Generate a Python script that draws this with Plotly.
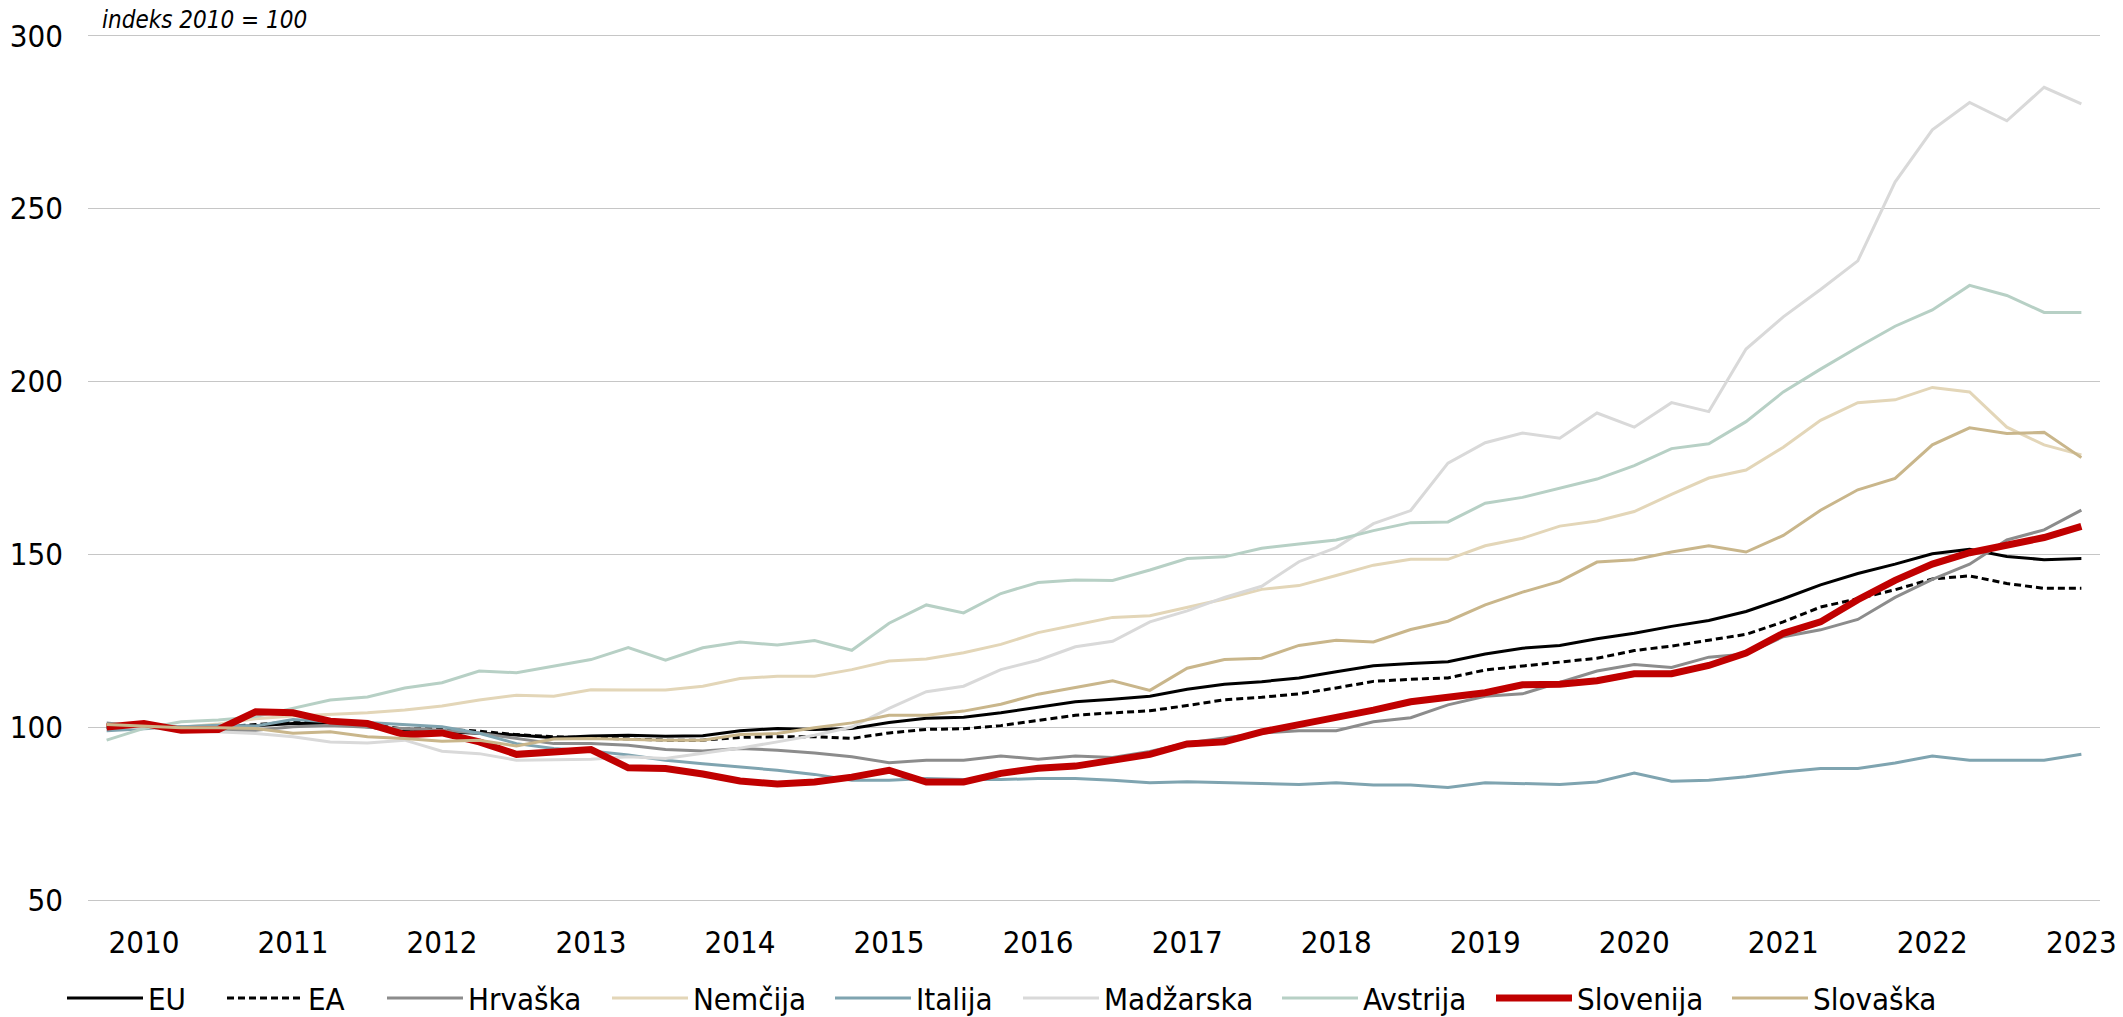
import plotly.graph_objects as go

# Quarterly data 2010Q1 .. 2023Q2 (indeks 2010 = 100)
quarters = list(range(54))
tick_positions = list(range(1, 54, 4))
tick_labels = [str(y) for y in range(2010, 2024)]
y_ticks = [50, 100, 150, 200, 250, 300]

eu = [100, 100, 100, 100, 100.5, 101.1, 101.1, 100.2, 98.7, 98.7, 98.3, 97.8, 97, 97.5,
      97.7, 97.4, 97.6, 99, 99.7, 99.4, 99.7, 101.4, 102.6, 102.9, 104.2, 105.9, 107.4, 108.1,
      109, 111, 112.5, 113.2, 114.3, 116.1, 117.8, 118.5, 119, 121.2, 122.9, 123.7, 125.6,
      127.2, 129.2, 130.9, 133.5, 137.2, 141.2, 144.5, 147.2, 150.2, 151.5, 149.4, 148.5, 148.8]
ea = [100, 100, 100, 100, 100.8, 101.5, 101.5, 100.8, 99.5, 99.5, 98.9, 97.9, 97.3, 97,
      96.5, 96.3, 96.3, 97.1, 97.3, 97.3, 96.8, 98.4, 99.4, 99.6, 100.5, 102.1, 103.5, 104.2,
      104.8, 106.3, 108, 108.7, 109.7, 111.4, 113.3, 113.9, 114.3, 116.6, 117.8, 118.8, 120,
      122.2, 123.5, 125.2, 126.9, 130.5, 134.8, 137.2, 139.8, 142.9, 143.8, 141.6, 140.2, 140.2]
hrvaska = [101.3, 100.2, 100.2, 99.2, 99.2, 100.2, 100.6, 100, 99.7, 99.2, 98.3, 96.8, 95.3, 95.3,
           94.8, 93.6, 93.2, 93.9, 93.4, 92.6, 91.5, 89.8, 90.5, 90.5, 91.7, 90.8, 91.7, 91.3,
           93, 95.5, 97, 98.4, 99, 99, 101.6, 102.8, 106.5, 109, 109.7, 113, 116.3,
           118.2, 117.3, 120.3, 121.2, 126.2, 128.2, 131.2, 137.6, 142.8, 147.2, 154.2, 157.1, 162.8]
nemcija = [100.6, 100.3, 100, 101, 102.5, 103.3, 103.7, 104.2, 105, 106.2, 107.9, 109.3, 109, 110.9,
           110.8, 110.8, 111.9, 114.1, 114.8, 114.8, 116.7, 119.2, 119.8, 121.6, 124, 127.4, 129.6, 131.8,
           132.3, 134.8, 137.1, 139.9, 141, 143.9, 146.9, 148.6, 148.6, 152.5, 154.7, 158.2, 159.7,
           162.4, 167.4, 172.1, 174.4, 181, 188.8, 193.9, 194.7, 198.3, 197, 186.8, 181.7, 178.8]
italija = [99, 99.7, 100.2, 100.6, 100.4, 102.3, 101.6, 101.4, 100.8, 100.2, 98.3, 95.3, 93.9, 93.2,
           92, 90.5, 89.5, 88.6, 87.6, 86.4, 84.7, 84.7, 85.2, 84.9, 84.9, 85.2, 85.2, 84.7,
           84, 84.3, 84.1, 83.8, 83.5, 84, 83.3, 83.3, 82.6, 84, 83.8, 83.5, 84.2,
           86.8, 84.4, 84.7, 85.7, 87.1, 88.1, 88.1, 89.7, 91.7, 90.5, 90.5, 90.5, 92.2]
madzarska = [100, 100, 99.2, 98.7, 98.2, 97.3, 95.8, 95.5, 96.3, 93.1, 92.4, 90.5, 90.7, 90.8,
             91.5, 91, 92.5, 94, 95.8, 97.7, 100.1, 105.5, 110.3, 111.9, 116.7, 119.4, 123.3, 124.9,
             130.5, 133.7, 137.6, 140.8, 147.9, 152, 158.9, 162.7, 176.4, 182.3, 185.1, 183.6, 190.9,
             186.8, 193.9, 191.3, 209.4, 218.7, 226.6, 234.9, 257.7, 272.8, 280.7, 275.4, 285.1, 280.3]
avstrija = [96.3, 99.7, 101.6, 102.1, 103.1, 105.5, 107.9, 108.8, 111.4, 112.9, 116.3, 115.8, 117.7, 119.6,
            123.1, 119.4, 123, 124.7, 123.8, 125.1, 122.3, 130.1, 135.4, 133.1, 138.7, 141.9, 142.6, 142.5,
            145.5, 148.8, 149.3, 151.8, 153, 154.2, 156.9, 159.2, 159.4, 164.8, 166.5, 169.1, 171.8,
            175.7, 180.6, 182, 188.4, 197, 203.6, 209.9, 216, 220.7, 227.8, 224.9, 220, 220]
slovenija = [100.1, 101.1, 99.2, 99.4, 104.5, 104.2, 101.8, 101.1, 97.9, 98.4, 95.8, 92.2, 92.9, 93.6,
             88.3, 88.1, 86.5, 84.5, 83.6, 84.2, 85.6, 87.6, 84.2, 84.2, 86.7, 88.2, 88.8, 90.5,
             92.2, 95.2, 95.8, 98.7, 100.8, 102.5, 105, 107.4, 108.5, 110, 112.3, 112.5, 113.5,
             115.5, 115.5, 117.9, 121.5, 127.2, 130.5, 136.9, 142.5, 147.2, 150.5, 152.5, 154.9, 158.1]
slovaska = [100.8, 100.3, 99.9, 99.9, 99.7, 98.3, 98.7, 97.3, 96.8, 96, 96.3, 94.6, 96.6, 96.8,
            96.5, 96.3, 96.3, 97.9, 98.2, 99.9, 101.3, 103.5, 103.5, 104.7, 106.7, 109.6, 111.5, 113.5,
            110.7, 117.1, 119.6, 120, 123.7, 125.2, 124.7, 128.3, 130.7, 135.4, 139.1, 142.2, 147.8,
            148.5, 150.7, 152.5, 150.7, 155.5, 162.8, 168.7, 172, 181.7, 186.6, 185, 185.3, 178]

FONT = "DejaVu Sans Condensed, Liberation Sans Narrow, Arial Narrow, sans-serif"

series = [
    ("EU", eu, "#000000", 3, "solid"),
    ("EA", ea, "#000000", 3, "7px,4px"),
    ("Hrvaška", hrvaska, "#8c8c8c", 3, "solid"),
    ("Nemčija", nemcija, "#e3d6b8", 3, "solid"),
    ("Italija", italija, "#7fa4b0", 3, "solid"),
    ("Madžarska", madzarska, "#d9d9d9", 3, "solid"),
    ("Avstrija", avstrija, "#b7d0c5", 3, "solid"),
    ("Slovenija", slovenija, "#c00000", 7, "solid"),
    ("Slovaška", slovaska, "#c9b68b", 3, "solid"),
]

# pixel geometry: value 300 at y=36, value 50 at y=900
PX_PER_UNIT = 864 / 250
PAD = 0.5  # small range padding so that the 50 and 300 gridlines are drawn
PLOT_L, PLOT_R = 88, 23
PLOT_T = 36 - PAD * PX_PER_UNIT
PLOT_B = 117 - PAD * PX_PER_UNIT
PLOT_W = 2123 - PLOT_L - PLOT_R
PLOT_H = 1017 - PLOT_T - PLOT_B
# left edge (px) of each legend entry line, as in the reference
legend_line_px = [70, 230, 390, 615, 838, 1026, 1285, 1499, 1735]
LEGEND_CY = 998

fig = go.Figure()
legend_layouts = {}
for k, (name, vals, color, width, dash) in enumerate(series):
    key = "legend" if k == 0 else f"legend{k + 1}"
    fig.add_trace(go.Scatter(x=quarters, y=vals, mode="lines", name=name, legend=key,
                             line=dict(color=color, width=width, dash=dash)))
    legend_layouts[key] = dict(
        orientation="h", x=(legend_line_px[k] - 8 - PLOT_L) / PLOT_W, xanchor="left",
        y=-(LEGEND_CY - (1017 - PLOT_B)) / PLOT_H, yanchor="middle",
        font=dict(family=FONT, size=31),
        itemwidth=76, bgcolor="rgba(0,0,0,0)", borderwidth=0)

fig.update_layout(
    width=2123, height=1017,
    margin=dict(l=PLOT_L, r=PLOT_R, t=PLOT_T, b=PLOT_B, autoexpand=False),
    paper_bgcolor="white", plot_bgcolor="white",
    font=dict(family=FONT, size=31, color="#000000"),
    showlegend=True,
    xaxis=dict(range=[-0.5, 53.5], tickmode="array", tickvals=tick_positions, ticktext=tick_labels,
               showgrid=False, zeroline=False, showline=False, ticks="", ticklabelstandoff=19,
               automargin=False),
    yaxis=dict(range=[50 - PAD, 300 + PAD], tickmode="array", tickvals=y_ticks,
               showgrid=True, gridcolor="#c6c6c6", gridwidth=1.3, zeroline=False, showline=False,
               ticks="", ticklabelstandoff=24, automargin=False),
    annotations=[dict(text="<i>indeks 2010 = 100</i>", xref="paper", yref="paper",
                      x=(102 - PLOT_L) / PLOT_W, y=1.0, xanchor="left", yanchor="bottom",
                      xshift=-2, yshift=-2,
                      showarrow=False, font=dict(family=FONT, size=24))],
)
fig.update_layout(**legend_layouts)

fig.write_html("out.html", config={"displayModeBar": False},
               post_script="document.body.style.margin='0px';")
